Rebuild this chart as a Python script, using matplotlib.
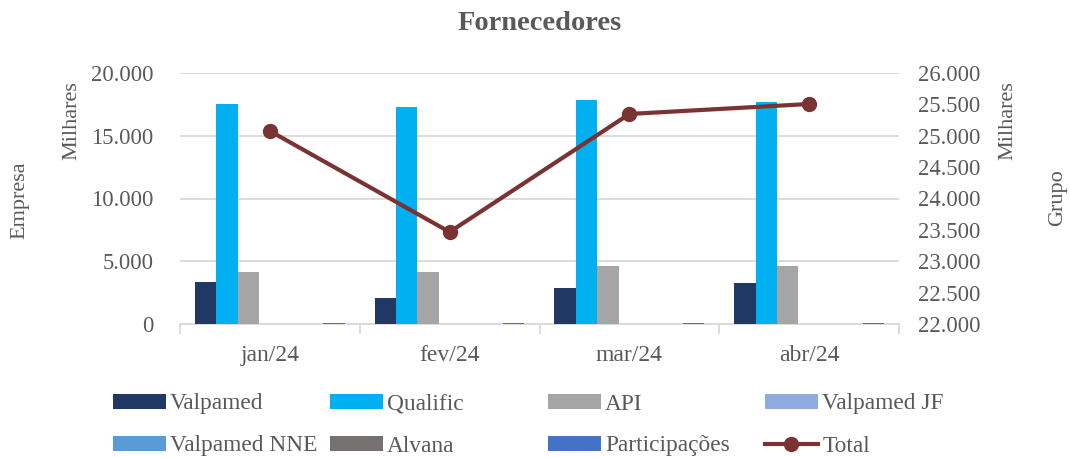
import matplotlib
matplotlib.use("Agg")
import matplotlib.pyplot as plt
from matplotlib.patches import Patch
from matplotlib.lines import Line2D
from matplotlib.ticker import FuncFormatter, MultipleLocator, FixedLocator
import numpy as np

# ---- data ----
months = ["jan/24", "fev/24", "mar/24", "abr/24"]
series_names = ["Valpamed", "Qualific", "API", "Valpamed JF", "Valpamed NNE", "Alvana", "Participações"]
valpamed = [3370, 2100, 2890, 3290]
qualific = [17530, 17290, 17850, 17690]
api = [4170, 4170, 4620, 4620]
valpamed_jf = [0, 0, 0, 0]
valpamed_nne = [0, 0, 0, 0]
alvana = [0, 0, 0, 0]
participacoes = [100, 100, 100, 100]
total = [25076, 23466, 25347, 25506]
total_name = "Total"
title = "Fornecedores"

# ---- styles ----
colors = ["#1f3864", "#00b0f0", "#a5a5a5", "#8faadc", "#5b9bd5", "#767171", "#4472c4"]
line_color = "#7b3232"
txt = "#595959"
grid_c = "#d9d9d9"
FONT = "Liberation Serif"
plt.rcParams["font.family"] = [FONT, "DejaVu Serif"]

W, H = 1070, 457
fig = plt.figure(figsize=(W / 100, H / 100), dpi=100)
ax = fig.add_axes([180 / W, 1 - 324 / H, (899 - 180) / W, (324 - 73) / H])
ax2 = ax.twinx()

series = [valpamed, qualific, api, valpamed_jf, valpamed_nne, alvana, participacoes]
x = np.arange(len(months))
bw = 0.119
start = -0.5 + 0.083
for i, (vals, c) in enumerate(zip(series, colors)):
    ax.bar(x + start + bw * (i + 0.5), vals, width=bw, color=c, zorder=3)

ax.set_xlim(-0.5, len(months) - 0.5)
ax.set_ylim(0, 20000)
ax.yaxis.set_major_locator(MultipleLocator(5000))
fmt = FuncFormatter(lambda v, p: f"{int(round(v)):,}".replace(",", "."))
ax.yaxis.set_major_formatter(fmt)
ax.grid(axis="y", color=grid_c, lw=1.3, zorder=0)
for s in ["top", "right", "left"]:
    ax.spines[s].set_visible(False)
ax.spines["bottom"].set_color(grid_c)
ax.spines["bottom"].set_linewidth(1.3)
ax.set_xticks(x)
ax.set_xticklabels(months)
ax.xaxis.set_minor_locator(FixedLocator(np.arange(-0.5, len(months), 1.0)))
ax.tick_params(axis="x", which="major", length=0, pad=15, labelsize=17, labelcolor=txt)
ax.tick_params(axis="x", which="minor", length=7, color=grid_c, width=1.3)
ax.tick_params(axis="y", length=0, pad=19, labelsize=16.3, labelcolor=txt)

ax2.plot(x, total, color=line_color, lw=3, marker="o", ms=10, zorder=5)
ax2.set_ylim(22000, 26000)
ax2.yaxis.set_major_locator(MultipleLocator(500))
ax2.yaxis.set_major_formatter(fmt)
ax2.tick_params(axis="y", length=0, pad=14, labelsize=16.3, labelcolor=txt)
for s in ["top", "right", "left", "bottom"]:
    ax2.spines[s].set_visible(False)

fig.text(540 / W, 1 - 23 / H, title, ha="center", va="center", fontsize=20.5,
         fontweight="bold", color=txt)
fig.text(72 / W, 1 - 121 / H, "Milhares", rotation=90, ha="center", va="center", fontsize=16, color=txt)
fig.text(20 / W, 1 - 200 / H, "Empresa", rotation=90, ha="center", va="center", fontsize=16, color=txt)
fig.text(1008 / W, 1 - 121 / H, "Milhares", rotation=90, ha="center", va="center", fontsize=16, color=txt)
fig.text(1058 / W, 1 - 198 / H, "Grupo", rotation=90, ha="center", va="center", fontsize=16, color=txt)

# legend: one entry per slot, 4 columns x 2 rows
handles = [Patch(facecolor=c, edgecolor="none") for c in colors]
handles.append(Line2D([0], [0], color=line_color, lw=3, marker="o", ms=10))
labels = series_names + [total_name]
col_x = [113, 330, 548, 765]
row_y = [404, 446]
for i, (h, l) in enumerate(zip(handles, labels)):
    cx = col_x[i % 4]
    cy = row_y[i // 4]
    fig.legend(handles=[h], labels=[l], loc="center left",
               bbox_to_anchor=(cx / W, 1 - cy / H), frameon=False,
               borderpad=0, borderaxespad=0, handlelength=2.25, handleheight=0.6,
               handletextpad=0.2, fontsize=16.8, labelcolor=txt)

fig.savefig("out.png", dpi=100)
